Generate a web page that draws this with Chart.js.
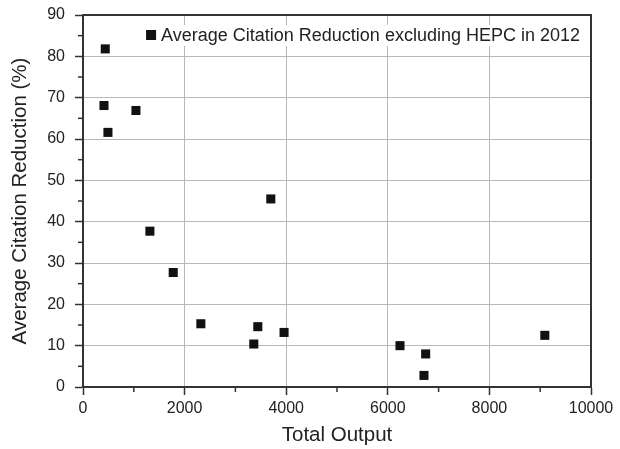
<!DOCTYPE html>
<html>
<head>
<meta charset="utf-8">
<script src="https://cdn.jsdelivr.net/npm/chart.js@4.4.1/dist/chart.umd.min.js"></script>
<style>
  html, body { margin: 0; padding: 0; background: #fff; }
  #wrap { width: 620px; height: 449px; }
</style>
</head>
<body>
<div id="wrap"><canvas id="citationChart" width="620" height="449"></canvas></div>
<script>
// Dữ liệu
const seriesLabel = 'Average Citation Reduction excluding HEPC in 2012';
const totalOutput = [438, 413, 1042, 491, 1317, 1776, 2320, 3362, 3441, 3697, 3958, 6240, 6712, 6745, 9091];
const citationReduction = [81.8, 68.1, 66.9, 61.6, 37.7, 27.7, 15.3, 10.4, 14.6, 45.5, 13.2, 10.0, 2.8, 8.0, 12.5];
const xTicks = [0, 2000, 4000, 6000, 8000, 10000];
const yTicks = [0, 10, 20, 30, 40, 50, 60, 70, 80, 90];
const xTitle = 'Total Output';
const yTitle = 'Average Citation Reduction (%)';

const FONT = 'Liberation Sans, Arial, Helvetica, sans-serif';
const AXIS_COLOR = '#333';
const GRID_COLOR = '#b8b8b8';

// Plugin vẽ khung trên/phải, vạch chia phụ và chú thích trong vùng vẽ
const frameAndLegend = {
  id: 'frameAndLegend',
  afterDraw(chart) {
    const { ctx, chartArea: a, scales } = chart;
    ctx.save();
    ctx.strokeStyle = AXIS_COLOR;
    ctx.lineWidth = 1.5;
    // vạch phụ trục x
    for (let i = 0; i < xTicks.length - 1; i++) {
      const px = scales.x.getPixelForValue((xTicks[i] + xTicks[i + 1]) / 2);
      ctx.beginPath();
      ctx.moveTo(px, a.bottom);
      ctx.lineTo(px, a.bottom + 5);
      ctx.stroke();
    }
    // vạch phụ trục y
    for (let i = 0; i < yTicks.length - 1; i++) {
      const py = scales.y.getPixelForValue((yTicks[i] + yTicks[i + 1]) / 2);
      ctx.beginPath();
      ctx.moveTo(a.left, py);
      ctx.lineTo(a.left - 5, py);
      ctx.stroke();
    }
    // khung trên và phải
    ctx.lineWidth = 2;
    ctx.beginPath();
    ctx.moveTo(a.left, a.top);
    ctx.lineTo(a.right, a.top);
    ctx.lineTo(a.right, a.bottom);
    ctx.stroke();

    // chú thích (nền trắng che lưới)
    const ds = chart.data.datasets[0];
    ctx.font = '18px ' + FONT;
    const textW = ctx.measureText(ds.label).width;
    const textRight = a.right - 11;
    const textX = textRight - textW;
    const cy = a.top + 20;
    const box = 10;
    const boxX = textX - 5 - box;
    ctx.fillStyle = '#fff';
    ctx.fillRect(boxX - 5, a.top + 10, textRight + 6 - (boxX - 5), 21);
    ctx.fillStyle = ds.backgroundColor;
    ctx.fillRect(boxX, cy - box / 2, box, box);
    ctx.fillStyle = '#222';
    ctx.textBaseline = 'middle';
    ctx.textAlign = 'left';
    ctx.fillText(ds.label, textX, cy + 1);
    ctx.restore();
  }
};

const ctx = document.getElementById('citationChart').getContext('2d');
const citationChart = new Chart(ctx, {
  type: 'scatter',
  data: {
    datasets: [{
      label: seriesLabel,
      data: totalOutput.map((x, i) => ({ x: x, y: citationReduction[i] })),
      pointStyle: 'rect',
      radius: 6.4,
      hoverRadius: 6.4,
      backgroundColor: '#111',
      borderColor: '#111',
      borderWidth: 0
    }]
  },
  options: {
    responsive: false,
    animation: false,
    events: [],
    layout: { padding: { top: 15, right: 29, left: 0, bottom: 0 } },
    plugins: {
      tooltip: { enabled: false },
      legend: { display: false }
    },
    scales: {
      x: {
        type: 'linear',
        min: 0,
        max: 10000,
        afterBuildTicks: s => { s.ticks = xTicks.map(v => ({ value: v })); },
        afterFit: s => { s.height = 62; s.paddingLeft = 0; s.paddingRight = 0; },
        ticks: {
          color: '#222',
          padding: 4,
          maxRotation: 0,
          font: { family: FONT, size: 16 },
          callback: v => String(v)
        },
        grid: { color: GRID_COLOR, lineWidth: 1, tickLength: 8, tickColor: AXIS_COLOR, tickWidth: 1.5 },
        border: { color: AXIS_COLOR, width: 2 },
        title: {
          display: true,
          text: xTitle,
          color: '#222',
          font: { family: FONT, size: 20.5 },
          padding: { top: 0, bottom: 1 }
        }
      },
      y: {
        type: 'linear',
        min: 0,
        max: 90,
        afterBuildTicks: s => { s.ticks = yTicks.map(v => ({ value: v })); },
        afterFit: s => { s.width = 83; s.paddingTop = 0; s.paddingBottom = 0; },
        ticks: {
          color: '#222',
          padding: 10,
          font: { family: FONT, size: 16 },
          callback: v => String(v)
        },
        grid: { color: GRID_COLOR, lineWidth: 1, tickLength: 8, tickColor: AXIS_COLOR, tickWidth: 1.5 },
        border: { color: AXIS_COLOR, width: 2 },
        title: {
          display: true,
          text: yTitle,
          color: '#222',
          font: { family: FONT, size: 20.5 },
          padding: { top: 8, bottom: 0 }
        }
      }
    }
  },
  plugins: [frameAndLegend]
});
</script>
</body>
</html>
